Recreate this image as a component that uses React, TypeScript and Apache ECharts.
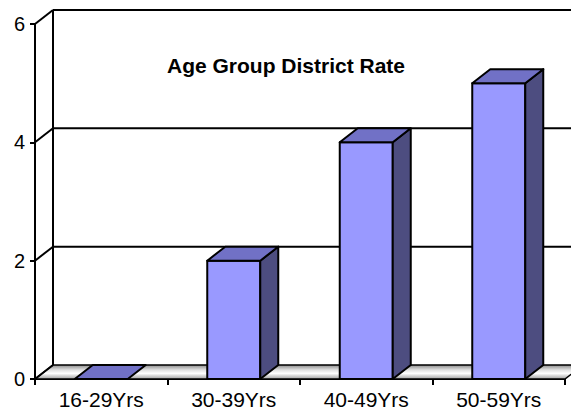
import React, { useEffect, useRef } from "react";
import * as echarts from "echarts";

const categories = ["16-29Yrs", "30-39Yrs", "40-49Yrs", "50-59Yrs"];
const rates = [0, 2, 4, 5];
const yTicks = [0, 2, 4, 6];
const chartTitle = "Age Group District Rate";

const DX = 18;
const DY = -14;
const FRONT = "#9999ff";
const TOP = "#7171c6";
const SIDE = "#4d4d80";
const FONT = "Liberation Sans";

export default function App() {
  const ref = useRef<HTMLDivElement>(null);
  useEffect(() => {
    if (!ref.current) return;
    const chart = echarts.init(ref.current, null, { renderer: "svg" });
    const option: any = {
      animation: false,
      backgroundColor: "#ffffff",
      title: {
        text: chartTitle,
        left: 167,
        top: 55,
        padding: 0,
        textStyle: { fontFamily: FONT, fontSize: 21, fontWeight: "bold", color: "#000" },
      },
      grid: { left: 35, right: 6, top: 24, bottom: 32, containLabel: false },
      xAxis: {
        type: "category",
        data: categories,
        boundaryGap: true,
        axisLine: { lineStyle: { color: "#000", width: 2 } },
        axisTick: { show: true, length: 6, lineStyle: { color: "#000", width: 2 } },
        axisLabel: { fontFamily: FONT, fontSize: 21, color: "#000", margin: 10 },
        splitLine: { show: false },
      },
      yAxis: {
        type: "value",
        min: 0,
        max: 6,
        interval: 2,
        axisLine: { show: true, lineStyle: { color: "#000", width: 2 } },
        axisTick: { show: true, length: 5, lineStyle: { color: "#000", width: 2 } },
        axisLabel: { fontFamily: FONT, fontSize: 20, color: "#000", margin: 10 },
        splitLine: { show: false },
      },
      series: [
        {
          type: "custom",
          clip: false,
          z: 1,
          silent: true,
          data: [[0, 0]],
          renderItem: (params: any, api: any) => {
            const cs = params.coordSys;
            const x0 = cs.x;
            const x1 = cs.x + cs.width;
            const yb = api.coord([0, 0])[1];
            const yt = api.coord([0, yTicks[yTicks.length - 1]])[1];
            const line = { stroke: "#000", lineWidth: 2 };
            const children: any[] = [];
            children.push({
              type: "polygon",
              shape: {
                points: [
                  [x0, yb],
                  [x1, yb],
                  [x1 + DX, yb + DY],
                  [x0 + DX, yb + DY],
                ],
              },
              style: {
                fill: new echarts.graphic.LinearGradient(0, 0, 0, 1, [
                  { offset: 0, color: "#8c8c8c" },
                  { offset: 0.35, color: "#e0e0e0" },
                  { offset: 0.6, color: "#ffffff" },
                  { offset: 1, color: "#a0a0a0" },
                ]),
                stroke: "#000",
                lineWidth: 1.5,
              },
            });
            children.push({
              type: "line",
              shape: { x1: x0 + DX, y1: yt + DY, x2: x0 + DX, y2: yb + DY },
              style: line,
            });
            children.push({
              type: "line",
              shape: { x1: x1 + DX, y1: yt + DY, x2: x1 + DX, y2: yb + DY },
              style: line,
            });
            yTicks.forEach((v) => {
              const y = api.coord([0, v])[1];
              if (v !== 0) {
                children.push({
                  type: "line",
                  shape: { x1: x0 + DX, y1: y + DY, x2: x1 + DX, y2: y + DY },
                  style: line,
                });
              }
              children.push({
                type: "line",
                shape: { x1: x0, y1: y, x2: x0 + DX, y2: y + DY },
                style: line,
              });
            });
            return { type: "group", children };
          },
        },
        {
          type: "custom",
          clip: false,
          z: 3,
          data: rates.map((v, i) => [i, v]),
          renderItem: (params: any, api: any) => {
            const i = api.value(0);
            const v = api.value(1);
            const top = api.coord([i, v]);
            const base = api.coord([i, 0]);
            const w = api.size([1, 0])[0] * 0.4;
            const l = top[0] - w / 2;
            const r = top[0] + w / 2;
            const ty = top[1];
            const by = base[1];
            const st = { stroke: "#000", lineWidth: 2, lineJoin: "round" };
            const children: any[] = [];
            if (by - ty > 0.5) {
              children.push({
                type: "polygon",
                shape: { points: [[l, ty], [r, ty], [r, by], [l, by]] },
                style: { ...st, fill: FRONT },
              });
              children.push({
                type: "polygon",
                shape: { points: [[r, ty], [r + DX, ty + DY], [r + DX, by + DY], [r, by]] },
                style: { ...st, fill: SIDE },
              });
            }
            children.push({
              type: "polygon",
              shape: { points: [[l, ty], [r, ty], [r + DX, ty + DY], [l + DX, ty + DY]] },
              style: { ...st, fill: TOP },
            });
            return { type: "group", children };
          },
        },
      ],
    };
    chart.setOption(option);
    return () => chart.dispose();
  }, []);
  return (
    <div
      ref={ref}
      style={{ position: "fixed", left: 0, top: 0, width: 571, height: 411, background: "#fff" }}
    />
  );
}
